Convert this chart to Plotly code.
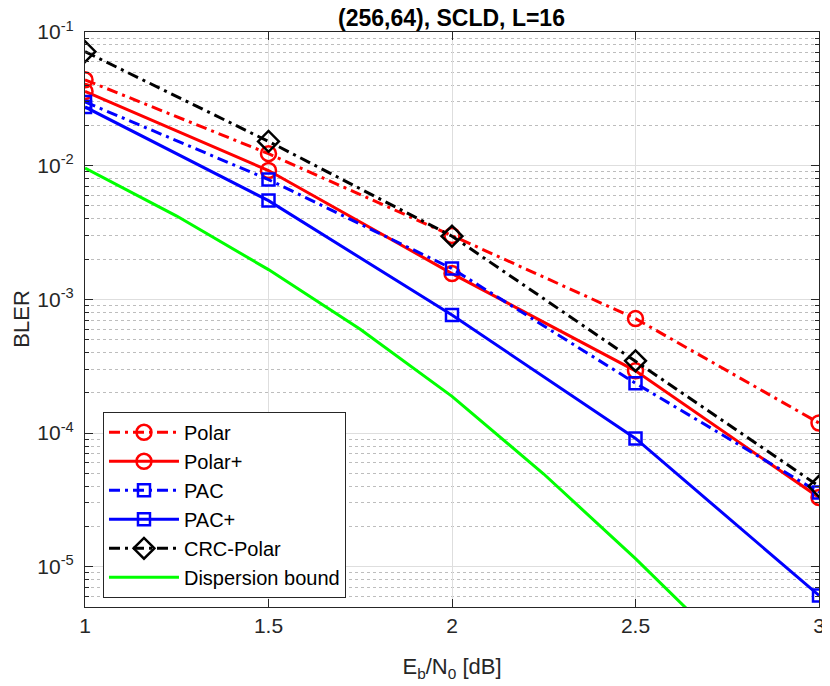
import plotly.graph_objects as go
import numpy as np

# Eb/N0 points (dB)
snr = [1.0, 1.5, 2.0, 2.5, 3.0]

# BLER
bler_polar = [0.0439, 0.0123, 0.00300, 0.000718, 0.000119]
bler_polar_plus = [0.0359, 0.0092, 0.00156, 0.000292, 0.000033]
bler_pac = [0.0300, 0.00787, 0.00170, 0.000236, 0.000036]
bler_pac_plus = [0.0275, 0.00548, 0.000763, 0.0000912, 0.0000061]
bler_crc_polar = [0.0713, 0.0152, 0.00297, 0.000347, 0.000040]

# dispersion bound (finer grid)
snr_disp = [1.0, 1.25, 1.5, 1.75, 2.0, 2.25, 2.5, 2.75]
bler_disp = [0.0096, 0.0042, 0.00167, 0.000597, 0.000188, 0.0000494, 0.0000115, 0.00000245]

ytick_vals = [1e-5, 1e-4, 1e-3, 1e-2, 1e-1]
ytick_text = ["10<sup>-5</sup>", "10<sup>-4</sup>", "10<sup>-3</sup>", "10<sup>-2</sup>", "10<sup>-1</sup>"]
xtick_vals = [1, 1.5, 2, 2.5, 3]
xtick_text = ["1", "1.5", "2", "2.5", "3"]

# minor log ticks 2..9 in every decade
minor_vals = [m * 10.0 ** e for e in range(-6, -1) for m in range(2, 10)]

RED = "#ff0000"
BLUE = "#0000ff"
GREEN = "#00ff00"
AX = "#262626"
DASHDOT = "11px,5px,3px,5px"
LW = 3

fig = go.Figure()

fig.add_trace(go.Scatter(x=snr, y=bler_polar, name="Polar", mode="lines+markers",
                         line=dict(color=RED, width=LW, dash=DASHDOT),
                         marker=dict(symbol="circle-open", size=15, color=RED, line=dict(width=2.5))))
fig.add_trace(go.Scatter(x=snr, y=bler_polar_plus, name="Polar+", mode="lines+markers",
                         line=dict(color=RED, width=LW),
                         marker=dict(symbol="circle-open", size=15, color=RED, line=dict(width=2.5))))
fig.add_trace(go.Scatter(x=snr, y=bler_pac, name="PAC", mode="lines+markers",
                         line=dict(color=BLUE, width=LW, dash=DASHDOT),
                         marker=dict(symbol="square-open", size=12, color=BLUE, line=dict(width=2.5))))
fig.add_trace(go.Scatter(x=snr, y=bler_pac_plus, name="PAC+", mode="lines+markers",
                         line=dict(color=BLUE, width=LW),
                         marker=dict(symbol="square-open", size=12, color=BLUE, line=dict(width=2.5))))
fig.add_trace(go.Scatter(x=snr, y=bler_crc_polar, name="CRC-Polar", mode="lines+markers",
                         line=dict(color="black", width=LW, dash=DASHDOT),
                         marker=dict(symbol="diamond-open", size=16, color="black", line=dict(width=2.5))))
fig.add_trace(go.Scatter(x=snr_disp, y=bler_disp, name="Dispersion bound", mode="lines",
                         line=dict(color=GREEN, width=LW)))

font = "Liberation Sans, Arial, Helvetica, sans-serif"

# the page body adds an 8px margin, so the figure is 8px smaller on each axis
fig.update_layout(
    width=822, height=678,
    paper_bgcolor="white", plot_bgcolor="white",
    margin=dict(l=77, r=11, t=24, b=79),
    font=dict(family=font, size=21, color=AX),
    title=dict(text="<b>(256,64), SCLD, L=16</b>", x=443.5 / 822, xanchor="center",
               y=1 - 2 / 678, yanchor="top", pad=dict(t=0, b=0),
               font=dict(size=23, color="black")),
    legend=dict(x=0.0245, y=0.016, xanchor="left", yanchor="bottom",
                bgcolor="white", bordercolor=AX, borderwidth=1,
                font=dict(size=20, color="black"), tracegroupgap=0,
                itemwidth=70),
)

# y label placed as an annotation, as far left as the page allows
fig.add_annotation(text="BLER", xref="paper", yref="paper", x=-0.087, y=0.5,
                   xanchor="center", yanchor="middle", textangle=-90,
                   showarrow=False, font=dict(size=22, color=AX))

fig.update_xaxes(
    range=[1, 3], tickvals=xtick_vals, ticktext=xtick_text, automargin=False,
    showline=True, linecolor=AX, linewidth=1.2, mirror="ticks",
    ticks="inside", ticklen=8, tickcolor=AX,
    showgrid=True, gridcolor="#dedede", gridwidth=1, zeroline=False,
    title=dict(text="E<sub>b</sub>/N<sub>0</sub> [dB]", standoff=22, font=dict(size=22)),
)
fig.update_yaxes(
    type="log", range=[np.log10(5e-6), -1], automargin=False,
    tickvals=ytick_vals, ticktext=ytick_text, ticklabelstandoff=6,
    showline=True, linecolor=AX, linewidth=1.2, mirror="ticks",
    ticks="inside", ticklen=8, tickcolor=AX,
    showgrid=True, gridcolor="#dedede", gridwidth=1, zeroline=False,
    minor=dict(tickmode="array", tickvals=minor_vals, ticks="inside", ticklen=4,
               tickcolor=AX, showgrid=True, gridcolor="#bdbdbd", griddash="dot", gridwidth=1),
)

fig.write_html("out.html")
